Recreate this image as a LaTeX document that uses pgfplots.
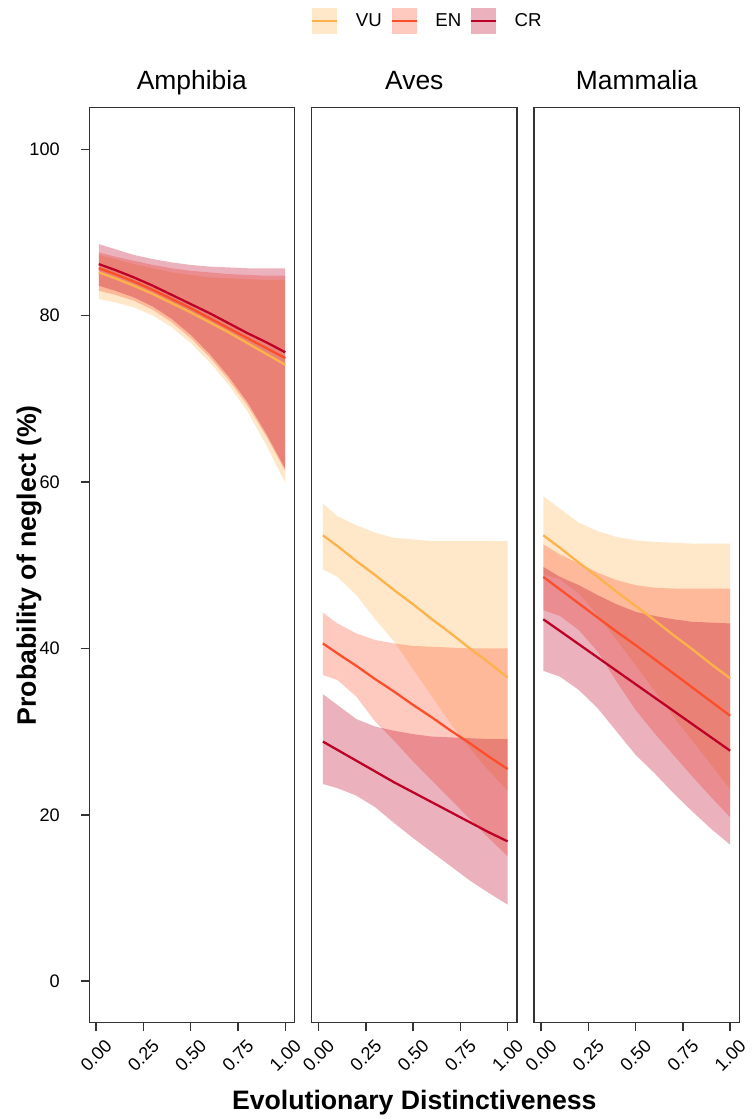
\documentclass[border=0pt]{standalone}
\usepackage{fontspec}
\setmainfont{Liberation Sans}
\usepackage{pgfplots}
\pgfplotsset{compat=1.18}
\usepackage{pgfplotstable}
\definecolor{vucol}{HTML}{FEB24C}
\definecolor{encol}{HTML}{FC4E2A}
\definecolor{crcol}{HTML}{BD0026}
\definecolor{axgray}{HTML}{333333}
\newcommand\tickfont{\fontsize{13.6}{16}\selectfont}
\newcommand\stripfont{\fontsize{19.8}{22}\selectfont}
\newcommand\axfont{\fontsize{20}{23}\selectfont\bfseries}
\newcommand\legfont{\fontsize{14}{16}\selectfont}

% confidence bands: upper bound forward, lower bound backward
\pgfplotstableread{
x     vu   en   cr
0.014 87.3 87.6 88.6
0.1   86.8 87.1 88.0
0.2   86.2 86.6 87.3
0.3   85.7 86.1 86.8
0.4   85.2 85.7 86.4
0.5   84.9 85.4 86.1
0.6   84.6 85.2 85.9
0.7   84.5 85.0 85.8
0.8   84.4 84.9 85.7
0.9   84.3 84.8 85.7
1.0   84.3 84.8 85.7
1.0   59.9 61.3 61.6
0.9   64.4 65.5 65.8
0.8   68.5 69.2 69.6
0.7   71.7 72.3 72.7
0.6   74.4 75.0 75.4
0.5   76.7 77.3 77.7
0.4   78.6 79.2 79.6
0.3   80.0 80.7 81.1
0.2   81.0 81.8 82.2
0.1   81.6 82.5 83.0
0.014 82.0 83.0 83.6
}\amphband
\pgfplotstableread{
x     vu   en   cr
0.014 85.2 85.7 86.2
0.1   84.5 85.0 85.5
0.2   83.6 84.1 84.6
0.3   82.6 83.1 83.6
0.4   81.5 82.0 82.5
0.5   80.4 80.9 81.4
0.6   79.2 79.7 80.3
0.7   78.0 78.5 79.1
0.8   76.7 77.3 77.9
0.9   75.4 76.1 76.8
1.0   74.1 74.9 75.6
}\amphfit

\pgfplotstableread{
x     vu   en   cr
0.023 57.4 44.3 34.5
0.1   55.9 43.0 33.2
0.2   54.8 41.8 31.5
0.3   53.9 41.0 30.6
0.4   53.3 40.6 30.1
0.5   53.1 40.3 29.7
0.6   52.9 40.2 29.4
0.7   52.9 40.1 29.3
0.8   52.9 40.0 29.2
0.9   52.9 40.0 29.1
1.0   52.9 40.0 29.1
1.0   22.9 15.0  9.2
0.9   25.3 17.2 10.6
0.8   28.0 19.5 12.1
0.7   30.9 21.8 13.8
0.6   34.2 24.1 15.5
0.5   37.5 26.4 17.2
0.4   40.8 28.9 19.0
0.3   43.5 31.2 20.9
0.2   46.4 34.2 22.3
0.1   48.6 36.2 23.2
0.023 49.5 36.8 23.7
}\avesband
\pgfplotstableread{
x     vu   en   cr
0.023 53.6 40.6 28.8
0.1   52.3 39.4 27.8
0.2   50.5 37.9 26.5
0.3   48.8 36.3 25.2
0.4   47.0 34.8 23.9
0.5   45.3 33.2 22.7
0.6   43.5 31.7 21.5
0.7   41.8 30.1 20.3
0.8   40.0 28.6 19.1
0.9   38.3 27.0 17.9
1.0   36.5 25.5 16.8
}\avesfit

\pgfplotstableread{
x     vu   en   cr
0.012 58.3 52.5 49.8
0.1   56.8 51.3 48.6
0.2   55.1 50.2 47.6
0.3   54.1 49.1 46.4
0.4   53.4 48.2 45.3
0.5   53.0 47.6 44.4
0.6   52.8 47.3 43.9
0.7   52.7 47.2 43.5
0.8   52.6 47.2 43.2
0.9   52.6 47.2 43.1
1.0   52.6 47.2 43.0
1.0   23.1 19.7 16.4
0.9   26.0 22.1 18.3
0.8   28.9 24.6 20.4
0.7   31.8 27.2 22.6
0.6   34.9 29.8 25.0
0.5   38.0 32.6 27.2
0.4   41.0 36.0 30.0
0.3   44.0 39.6 32.8
0.2   46.6 42.2 35.0
0.1   48.3 43.9 36.6
0.012 48.9 44.6 37.3
}\mammband
\pgfplotstableread{
x     vu   en   cr
0.012 53.6 48.6 43.5
0.1   52.1 47.1 42.1
0.2   50.3 45.4 40.5
0.3   48.6 43.7 38.9
0.4   46.8 42.0 37.3
0.5   45.1 40.4 35.7
0.6   43.4 38.7 34.1
0.7   41.6 37.0 32.5
0.8   39.9 35.3 30.9
0.9   38.1 33.6 29.3
1.0   36.4 31.9 27.7
}\mammfit

\pgfplotsset{
  ribbonst/.style={draw=none, fill opacity=0.3, forget plot},
  fitline/.style={line width=1.7pt},
  panel/.style={
    scale only axis, width=153.9pt, height=686.25pt,
    anchor=south west,
    xmin=-0.036, xmax=1.049, ymin=-5, ymax=105,
    xtick={0,0.25,0.5,0.75,1},
    xticklabels={0.00,0.25,0.50,0.75,1.00},
    axis line style={draw=axgray, line width=1.1pt},
    tick style={draw=axgray, line width=1.1pt},
    tick align=outside, major tick length=6pt,
    xtick pos=bottom, ytick pos=left,
    x tick label style={font=\tickfont, anchor=center, yshift=-18.5pt, rotate=45},
    y tick label style={font=\tickfont, anchor=east, inner sep=0pt},
    title style={font=\stripfont, anchor=base, yshift=7.3pt},
  },
}

\newcommand\drawpanel[3]{%
  \addplot[ribbonst, fill=vucol] table[x=x,y=vu]{#1};
  \addplot[ribbonst, fill=encol] table[x=x,y=en]{#1};
  \addplot[ribbonst, fill=crcol] table[x=x,y=cr]{#1};
  \addplot[fitline, color=vucol, #3] table[x=x,y=vu]{#2};
  \addplot[fitline, color=encol, #3] table[x=x,y=en]{#2};
  \addplot[fitline, color=crcol, #3] table[x=x,y=cr]{#2};
}

\begin{document}
\begin{tikzpicture}
\useasboundingbox (0,0) rectangle (564pt,839.25pt);

\begin{axis}[panel, at={(66.98pt,72.2pt)}, title={Amphibia},
  ytick={0,20,40,60,80,100}, yticklabels={0,20,40,60,80,100},
  y tick label style={xshift=-16pt},
  ylabel={Probability of neglect (\%)},
  every axis y label/.style={at={(axis description cs:0,0.5)}, xshift=-40pt, rotate=90, anchor=base, font=\axfont},
]
\drawpanel{\amphband}{\amphfit}{forget plot}
\end{axis}

\begin{axis}[panel, at={(233.78pt,72.2pt)}, title={Aves},
  ytick=\empty,
  xlabel={Evolutionary Distinctiveness},
  every axis x label/.style={at={(axis description cs:0.5,0)}, yshift=-65.1pt, anchor=base, font=\axfont},
  legend columns=-1,
  legend style={at={(axis description cs:0.559,1.0944)}, anchor=center, draw=none, fill=none,
    font=\legfont, /tikz/column sep=0pt, inner sep=0pt, nodes={inner sep=0pt}},
  legend image code/.code={%
    \fill[#1, draw=none, fill opacity=0.3] (0pt,-9.75pt) rectangle (18.75pt,9.75pt);
    \draw[#1] (0pt,0pt) -- (18.75pt,0pt);
    \path (31.75pt,0pt);},
]
\drawpanel{\avesband}{\avesfit}{}
\legend{VU\kern6.75pt,EN\kern6.5pt,CR}
\end{axis}

\begin{axis}[panel, at={(400.65pt,72.2pt)}, title={Mammalia},
  ytick=\empty,
]
\drawpanel{\mammband}{\mammfit}{forget plot}
\end{axis}
\end{tikzpicture}
\end{document}
